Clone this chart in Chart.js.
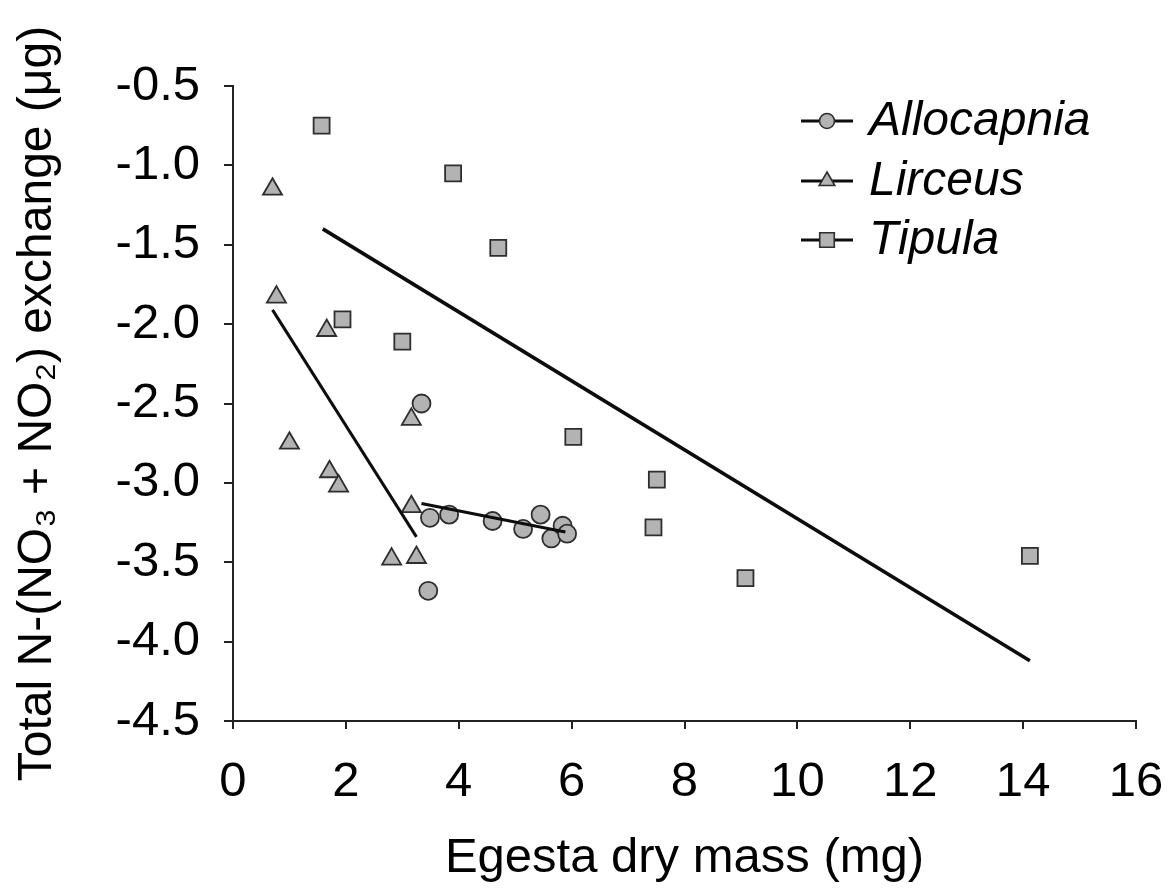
<!DOCTYPE html>
<html>
<head>
<meta charset="utf-8">
<script src="https://cdn.jsdelivr.net/npm/chart.js@4.4.1/dist/chart.umd.min.js"></script>
<style>
html,body{margin:0;padding:0;background:#ffffff;}
#wrap{width:1169px;height:894px;position:relative;}
</style>
</head>
<body>
<div id="wrap"><canvas id="c" width="1169" height="894"></canvas></div>
<script>
// ---- data ----
const seriesNames = ['Allocapnia', 'Lirceus', 'Tipula'];

const allocapniaX = [3.34, 3.49, 3.83, 4.60, 5.14, 5.45, 5.64, 5.84, 5.92, 3.46];
const allocapniaY = [-2.50, -3.22, -3.20, -3.24, -3.29, -3.20, -3.35, -3.27, -3.32, -3.68];

const lirceusX = [0.70, 0.77, 1.66, 1.00, 1.71, 1.87, 3.16, 3.16, 2.81, 3.25];
const lirceusY = [-1.15, -1.83, -2.04, -2.75, -2.93, -3.02, -3.15, -2.60, -3.48, -3.47];

const tipulaX = [1.57, 3.90, 4.70, 1.94, 3.00, 6.03, 7.51, 7.45, 9.08, 14.12];
const tipulaY = [-0.75, -1.05, -1.52, -1.97, -2.11, -2.71, -2.98, -3.28, -3.60, -3.46];

// regression line end points (x, y)
const allocapniaFitX = [3.34, 5.89];
const allocapniaFitY = [-3.13, -3.31];
const lirceusFitX = [0.70, 3.25];
const lirceusFitY = [-1.91, -3.34];
const tipulaFitX = [1.59, 14.12];
const tipulaFitY = [-1.40, -4.12];

const xTicks = [0, 2, 4, 6, 8, 10, 12, 14, 16];
const yTicks = [-0.5, -1.0, -1.5, -2.0, -2.5, -3.0, -3.5, -4.0, -4.5];
const yTickLabels = ['-0.5', '-1.0', '-1.5', '-2.0', '-2.5', '-3.0', '-3.5', '-4.0', '-4.5'];

const xTitle = 'Egesta dry mass (mg)';
const yTitle = 'Total N-(NO\u2083 + NO\u2082) exchange (\u03BCg)';

// ---- build ----
const pts = (xs, ys) => xs.map((x, i) => ({x: x, y: ys[i]}));
const FONT = '"Liberation Sans", Arial, Helvetica, sans-serif';
const MARK_FILL = '#b3b3b3';
const MARK_EDGE = '#2e2e2e';
const INK = '#0d0d0d';

function markerSet(label, xs, ys, style, r) {
  return {
    type: 'scatter', label: label, data: pts(xs, ys), order: 2,
    pointStyle: style, pointRadius: r, pointHoverRadius: r,
    backgroundColor: MARK_FILL, borderColor: MARK_EDGE, borderWidth: 1.8,
    showLine: false
  };
}
function fitSet(xs, ys, w) {
  return {
    type: 'line', label: '', data: pts(xs, ys), order: 0,
    borderColor: INK, borderWidth: w, pointRadius: 0, fill: false, tension: 0
  };
}

const datasets = [
  markerSet(seriesNames[0], allocapniaX, allocapniaY, 'circle', 9),
  markerSet(seriesNames[1], lirceusX, lirceusY, 'triangle', 11),
  markerSet(seriesNames[2], tipulaX, tipulaY, 'rect', 11.3),
  fitSet(allocapniaFitX, allocapniaFitY, 3),
  fitSet(lirceusFitX, lirceusFitY, 3),
  fitSet(tipulaFitX, tipulaFitY, 3.6)
];

const insideLegend = {
  id: 'insideLegend',
  afterDatasetsDraw(chart) {
    const ctx = chart.ctx;
    const rows = [121, 181, 240];
    const legendR = {circle: 7.5, triangle: 9, rect: 10.3};
    const x0 = 801, x1 = 853, xm = 827, xt = 869;
    ctx.save();
    chart.data.datasets.filter(d => d.type === 'scatter').forEach((d, i) => {
      const y = rows[i];
      ctx.strokeStyle = INK;
      ctx.lineWidth = 3.2;
      ctx.beginPath();
      ctx.moveTo(x0, y);
      ctx.lineTo(x1, y);
      ctx.stroke();
      ctx.fillStyle = MARK_FILL;
      ctx.strokeStyle = MARK_EDGE;
      ctx.lineWidth = 1.6;
      Chart.helpers.drawPoint(ctx, {pointStyle: d.pointStyle, radius: legendR[d.pointStyle], rotation: 0, borderWidth: 1.6}, xm, y);
      ctx.fillStyle = '#000000';
      ctx.font = 'italic 48px ' + FONT;
      ctx.textAlign = 'left';
      ctx.textBaseline = 'middle';
      ctx.fillText(d.label, xt, y + 1);
    });
    ctx.restore();
  }
};

new Chart(document.getElementById('c'), {
  data: {datasets: datasets},
  options: {
    responsive: false,
    animation: false,
    devicePixelRatio: 1,
    layout: {padding: {left: 0, right: 33, top: 86, bottom: 0}},
    plugins: {legend: {display: false}, tooltip: {enabled: false}},
    scales: {
      x: {
        type: 'linear', position: 'bottom', min: 0, max: 16,
        afterBuildTicks: s => { s.ticks = xTicks.map(v => ({value: v})); },
        afterFit: s => { s.height = 173; s.paddingLeft = 0; s.paddingRight = 0; },
        grid: {display: true, drawOnChartArea: false, drawTicks: true, tickLength: 8, color: '#222222', lineWidth: 2},
        border: {display: true, color: '#222222', width: 2},
        ticks: {color: '#000000', font: {family: FONT, size: 49}, padding: 24, maxRotation: 0,
                callback: v => String(v)},
        title: {display: true, text: xTitle, color: '#000000', font: {family: FONT, size: 49, lineHeight: 1.2}, padding: {top: 0, bottom: 6}}
      },
      y: {
        type: 'linear', position: 'left', min: -4.5, max: -0.5,
        afterBuildTicks: s => { s.ticks = yTicks.map(v => ({value: v})); },
        afterFit: s => { s.width = 233; s.paddingTop = 0; s.paddingBottom = 0; },
        grid: {display: true, drawOnChartArea: false, drawTicks: true, tickLength: 9, color: '#222222', lineWidth: 2},
        border: {display: true, color: '#222222', width: 2},
        ticks: {color: '#000000', font: {family: FONT, size: 49}, padding: 24,
                callback: (v) => { const i = yTicks.indexOf(v); return i >= 0 ? yTickLabels[i] : ''; }},
        title: {display: true, text: yTitle, color: '#000000', font: {family: FONT, size: 48, lineHeight: 1.2}, padding: {top: 9, bottom: 0}}
      }
    }
  },
  plugins: [insideLegend]
});
</script>
</body>
</html>
